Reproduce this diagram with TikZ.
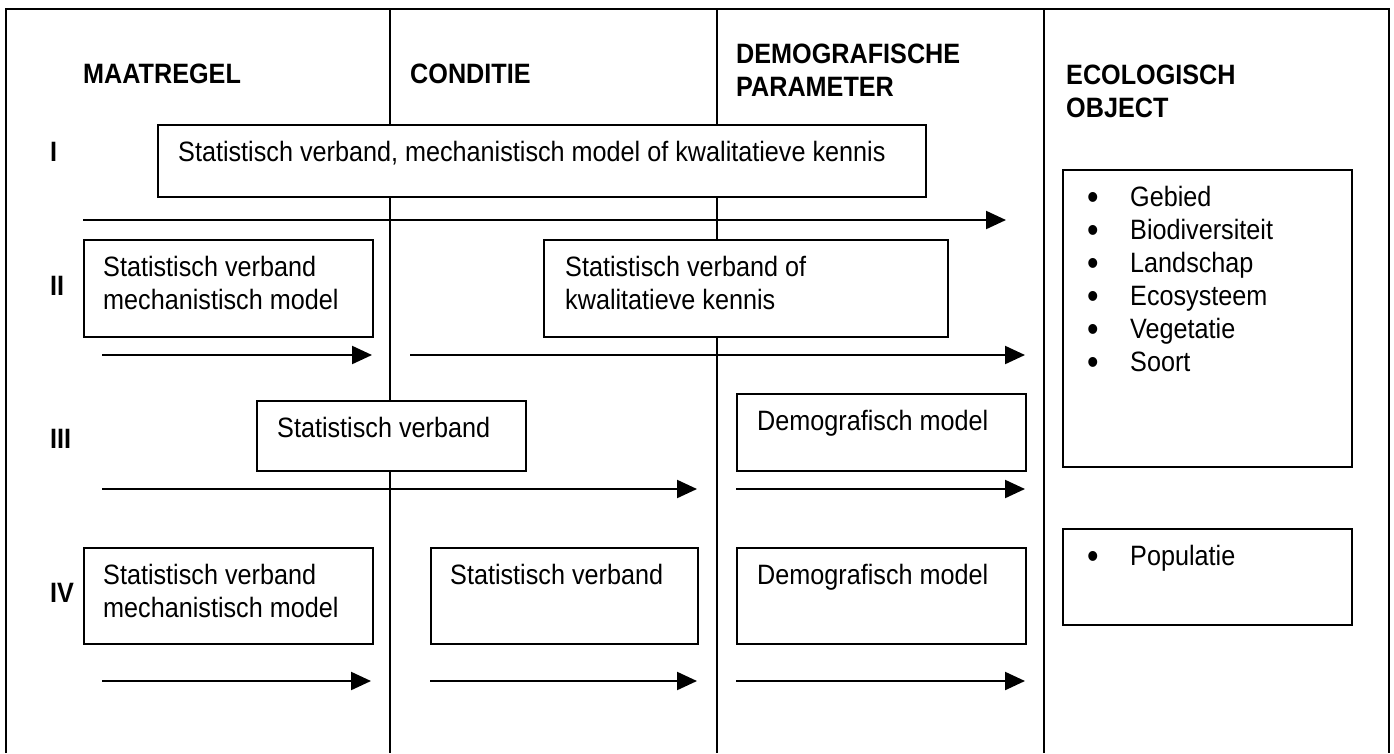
\documentclass[tikz,border=0pt]{standalone}
\usepackage{fontspec}
\setmainfont{Liberation Sans}[FakeStretch=0.9]
\usepackage{tikz}
\usetikzlibrary{arrows.meta}
\def\fs{\fontsize{28}{33}\selectfont}
\newcommand\bol{\makebox[43pt][l]{\raisebox{-3pt}{\scalebox{1.3}{\textbullet}}}}
\tikzset{lijn/.style={line width=1.5pt},
         vak/.style={draw=black, fill=white, line width=1.5pt, rectangle, inner sep=0, anchor=north west},
         tekst/.style={inner sep=0, anchor=north west, align=left, font=\fs},
         kop/.style={inner sep=0, anchor=west, align=left, font=\fs\bfseries},
         pijl/.style={-{Triangle[length=20pt,width=18pt]}, line width=2.2pt}}

\begin{document}
\begin{tikzpicture}[x=1pt, y=-1pt]
          \useasboundingbox (0,0) rectangle (1394,753);

          %kader en kolomlijnen
          \draw[lijn] (6,753) -- (6,9) -- (1389,9) -- (1389,753);
          \draw[lijn] (390,9) -- (390,753);
          \draw[lijn] (717,9) -- (717,753);
          \draw[lijn] (1044,9) -- (1044,753);

          %kolomkoppen
          \node[kop] (maatregel) at (83,74) {MAATREGEL};
          \node[kop] (conditie) at (410,74) {CONDITIE};
          \node[kop] (parameter) at (736,70) {DEMOGRAFISCHE\\PARAMETER};
          \node[kop] (object) at (1066,91) {ECOLOGISCH\\OBJECT};

          %rij I
          \node[kop] (rI) at (50,152) {I};
          \node[vak, minimum width=768pt, minimum height=72pt] (vI) at (157,124) {};
          \node[tekst] (tI) at ([shift={(21pt,-17pt)}]vI.north west) {Statistisch verband, mechanistisch model of kwalitatieve kennis};
          \coordinate (sI) at (83,220); \coordinate (eI) at (1006,220);
          \draw[pijl] (sI) -- (eI);

          %rij II
          \node[kop] (rII) at (50,286) {II};
          \node[vak, minimum width=289pt, minimum height=97pt] (vIIa) at (83,239) {};
          \node[tekst] (tIIa) at ([shift={(20pt,-17pt)}]vIIa.north west) {Statistisch verband\\mechanistisch model};
          \node[vak, minimum width=404pt, minimum height=97pt] (vIIb) at (543,239) {};
          \node[tekst] (tIIb) at ([shift={(22pt,-17pt)}]vIIb.north west) {Statistisch verband of\\kwalitatieve kennis};
          \coordinate (sIIa) at (102,355); \coordinate (eIIa) at (372,355);
          \coordinate (sIIb) at (410,355); \coordinate (eIIb) at (1025,355);
          \draw[pijl] (sIIa) -- (eIIa);
          \draw[pijl] (sIIb) -- (eIIb);

          %rij III
          \node[kop] (rIII) at (50,439) {III};
          \node[vak, minimum width=269pt, minimum height=70pt] (vIIIa) at (256,400) {};
          \node[tekst] (tIIIa) at ([shift={(21pt,-17pt)}]vIIIa.north west) {Statistisch verband};
          \node[vak, minimum width=289pt, minimum height=77pt] (vIIIb) at (736,393) {};
          \node[tekst] (tIIIb) at ([shift={(21pt,-17pt)}]vIIIb.north west) {Demografisch model};
          \coordinate (sIIIa) at (102,489); \coordinate (eIIIa) at (697,489);
          \coordinate (sIIIb) at (736,489); \coordinate (eIIIb) at (1025,489);
          \draw[pijl] (sIIIa) -- (eIIIa);
          \draw[pijl] (sIIIb) -- (eIIIb);

          %rij IV
          \node[kop] (rIV) at (50,593) {IV};
          \node[vak, minimum width=289pt, minimum height=96pt] (vIVa) at (83,547) {};
          \node[tekst] (tIVa) at ([shift={(20pt,-17pt)}]vIVa.north west) {Statistisch verband\\mechanistisch model};
          \node[vak, minimum width=267pt, minimum height=96pt] (vIVb) at (430,547) {};
          \node[tekst] (tIVb) at ([shift={(20pt,-17pt)}]vIVb.north west) {Statistisch verband};
          \node[vak, minimum width=289pt, minimum height=96pt] (vIVc) at (736,547) {};
          \node[tekst] (tIVc) at ([shift={(21pt,-17pt)}]vIVc.north west) {Demografisch model};
          \coordinate (sIVa) at (102,681); \coordinate (eIVa) at (371,681);
          \coordinate (sIVb) at (430,681); \coordinate (eIVb) at (697,681);
          \coordinate (sIVc) at (736,681); \coordinate (eIVc) at (1025,681);
          \draw[pijl] (sIVa) -- (eIVa);
          \draw[pijl] (sIVb) -- (eIVb);
          \draw[pijl] (sIVc) -- (eIVc);

          %ecologische objecten
          \node[vak, minimum width=289pt, minimum height=297pt] (eco) at (1062,169) {};
          \node[tekst] (lijst) at ([shift={(25pt,-17pt)}]eco.north west) {\bol Gebied\\\bol Biodiversiteit\\\bol Landschap\\\bol Ecosysteem\\\bol Vegetatie\\\bol Soort};
          \node[vak, minimum width=289pt, minimum height=96pt] (pop) at (1062,528) {};
          \node[tekst] (populatie) at ([shift={(25pt,-17pt)}]pop.north west) {\bol Populatie};

\end{tikzpicture}
\end{document}
